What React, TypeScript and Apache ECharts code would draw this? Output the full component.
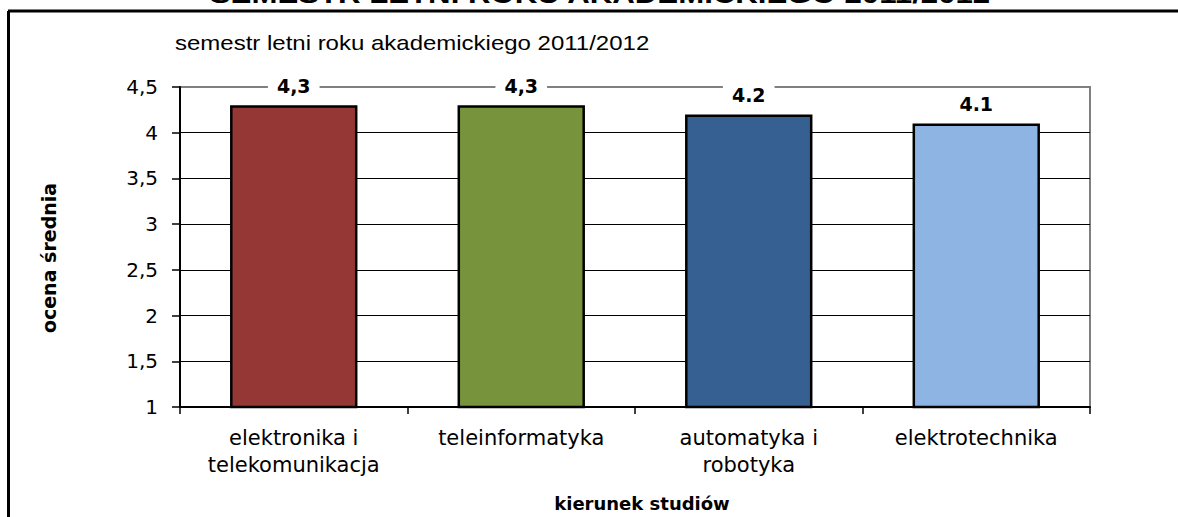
import React, { useEffect, useRef } from "react";
import * as echarts from "echarts";

const categories = [
  "elektronika i\ntelekomunikacja",
  "teleinformatyka",
  "automatyka i\nrobotyka",
  "elektrotechnika",
];
const values = [4.3, 4.3, 4.2, 4.1];
const valueLabels = ["4,3", "4,3", "4.2", "4.1"];
const barColors = ["#953735", "#77933C", "#366092", "#8DB4E2"];
const titleText = "SEMESTR LETNI ROKU AKADEMICKIEGO 2011/2012";
const subtitleText = "semestr letni roku akademickiego 2011/2012";
const yAxisName = "ocena średnia";
const xAxisName = "kierunek studiów";

export default function App() {
  const ref = useRef<HTMLDivElement>(null);
  useEffect(() => {
    if (!ref.current) return;
    const chart = echarts.init(ref.current, null, { renderer: "svg" });
    const gridColors = ["#000", "#000", "#000", "#000", "#000", "#000", "#000", "#808080"];
    chart.setOption({
      animation: false,
      backgroundColor: "#ffffff",
      grid: {
        left: 180,
        right: 88,
        top: 87,
        bottom: 110,
        show: true,
        borderColor: "#808080",
        borderWidth: 2,
        backgroundColor: "transparent",
      },
      xAxis: {
        type: "category",
        data: categories,
        axisLine: { lineStyle: { color: "#000", width: 2 } },
        axisTick: { show: true, length: 7, lineStyle: { color: "#000", width: 1.5 } },
        axisLabel: {
          color: "#000",
          fontFamily: "DejaVu Sans",
          fontSize: 21,
          lineHeight: 27,
          margin: 17,
          interval: 0,
        },
        name: xAxisName,
        nameLocation: "middle",
        nameGap: 87,
        nameTextStyle: {
          color: "#000",
          fontFamily: "DejaVu Sans",
          fontWeight: "bold",
          fontSize: 18,
          padding: [0, 0, 0, 14],
        },
      },
      yAxis: {
        type: "value",
        min: 1,
        max: 4.5,
        interval: 0.5,
        axisLine: { show: true, lineStyle: { color: "#000", width: 2 } },
        axisTick: { show: true, length: 8, lineStyle: { color: "#000", width: 1.5 } },
        splitLine: { show: true, lineStyle: { color: gridColors, width: 1.2 } },
        axisLabel: {
          color: "#000",
          fontFamily: "DejaVu Sans",
          fontSize: 20,
          margin: 22,
          formatter: (v: number) => String(v).replace(".", ","),
        },
        name: yAxisName,
        nameLocation: "middle",
        nameRotate: 90,
        nameGap: 122,
        nameTextStyle: {
          color: "#000",
          fontFamily: "DejaVu Sans",
          fontWeight: "bold",
          fontSize: 19,
          padding: [0, 22, 0, 0],
        },
      },
      series: [
        {
          type: "bar",
          data: values.map((v, i) => ({
            value: v,
            itemStyle: { color: barColors[i] },
          })),
          barCategoryGap: "44%",
          itemStyle: { borderColor: "#000", borderWidth: 2.5 },
          label: {
            show: true,
            position: "top",
            distance: 5,
            formatter: (p: any) => valueLabels[p.dataIndex],
            color: "#000",
            fontFamily: "DejaVu Sans",
            fontWeight: "bold",
            fontSize: 19,
            backgroundColor: "#ffffff",
            padding: [5, 9],
          },
        },
      ],
      graphic: [
        {
          type: "line",
          shape: { x1: 8, y1: 11, x2: 1178, y2: 11 },
          style: { stroke: "#000", lineWidth: 3 },
        },
        {
          type: "line",
          shape: { x1: 8.5, y1: 11, x2: 8.5, y2: 517 },
          style: { stroke: "#000", lineWidth: 3 },
        },
        {
          type: "text",
          x: 600,
          y: -6,
          scaleX: 1.2,
          style: {
            text: titleText,
            fill: "#000",
            font: "bold 26px 'Liberation Sans', Arial, sans-serif",
            align: "center",
            verticalAlign: "middle",
          },
        },
        {
          type: "text",
          x: 175,
          y: 43,
          scaleX: 1.2,
          style: {
            text: subtitleText,
            fill: "#000",
            font: "20px 'Liberation Sans', Arial, sans-serif",
            align: "left",
            verticalAlign: "middle",
          },
        },
      ],
    });
    return () => chart.dispose();
  }, []);
  return (
    <div
      ref={ref}
      style={{ position: "fixed", left: 0, top: 0, width: 1178, height: 517, background: "#fff" }}
    />
  );
}
